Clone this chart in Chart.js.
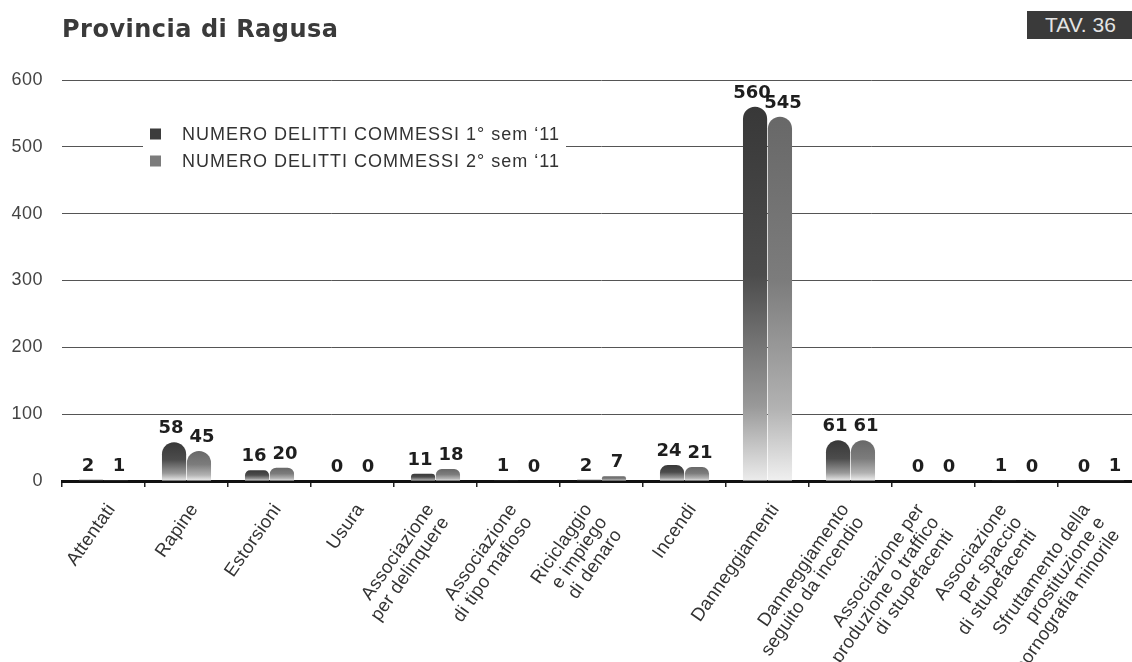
<!DOCTYPE html>
<html><head><meta charset="utf-8">
<script src="https://cdn.jsdelivr.net/npm/chart.js@4.4.1/dist/chart.umd.min.js"></script>
<style>
html,body{margin:0;padding:0;background:#fff;overflow:hidden;width:1132px;height:662px;}
#wrap{position:relative;width:1132px;height:662px;overflow:hidden;background:#fff;}
canvas{position:absolute;left:0;top:0;}
#title{position:absolute;left:62px;top:17px;font:bold 24px 'DejaVu Sans',sans-serif;letter-spacing:0.5px;color:#3a3a3a;line-height:24px;white-space:nowrap;}
#tav{position:absolute;left:1027px;top:11px;width:120px;height:28px;background:#3a3a3a;color:#e4e4e4;font:21px 'Liberation Sans',Arial,sans-serif;line-height:28px;padding-left:18px;box-sizing:border-box;white-space:nowrap;}
</style></head>
<body><div id="wrap"><canvas id="c" width="1141" height="662"></canvas><div id="title">Provincia di Ragusa</div><div id="tav">TAV. 36</div></div>
<script>
const categories = [
  ["Attentati"], ["Rapine"], ["Estorsioni"], ["Usura"],
  ["Associazione","per delinquere"], ["Associazione","di tipo mafioso"],
  ["Riciclaggio","e impiego","di denaro"], ["Incendi"], ["Danneggiamenti"],
  ["Danneggiamento","seguito da incendio"],
  ["Associazione per","produzione o traffico","di stupefacenti"],
  ["Associazione","per spaccio","di stupefacenti"],
  ["Sfruttamento della","prostituzione e","pornografia minorile"]
];
const sem1 = [2, 58, 16, 0, 11, 1, 2, 24, 560, 61, 0, 1, 0];
const sem2 = [1, 45, 20, 0, 18, 0, 7, 21, 545, 61, 0, 0, 1];
const seriesNames = ["NUMERO DELITTI COMMESSI 1° sem \u201811", "NUMERO DELITTI COMMESSI 2° sem \u201811"];
const yTicks = [0, 100, 200, 300, 400, 500, 600];

const stops1 = [[0,'#383838'],[0.45,'#4c4c4c'],[0.8,'#999999'],[1,'#ececec']];
const stops2 = [[0,'#686868'],[0.45,'#7c7c7c'],[0.8,'#b2b2b2'],[1,'#f0f0f0']];
const legendColors = ['#3c3c3c', '#7c7c7c'];
const labelShiftByLines = [8, -5, -13];

function barGradient(stops){
  return function(ctx){
    const chart = ctx.chart;
    if (ctx.type !== 'data' || !chart.chartArea) return stops[0][1];
    const y = chart.scales.y;
    const top = y.getPixelForValue(ctx.raw);
    const bot = y.getPixelForValue(0);
    if (bot - top < 2) return stops[1][1];
    const g = chart.ctx.createLinearGradient(0, top, 0, bot);
    stops.forEach(s => g.addColorStop(s[0], s[1]));
    return g;
  };
}

const spacingPlugin = {
  id: 'spacing',
  beforeLayout(chart){ chart.ctx.letterSpacing = '0.5px'; },
  beforeDraw(chart){ chart.ctx.letterSpacing = '0.5px'; }
};

const valueLabels = {
  id: 'valueLabels',
  afterDatasetsDraw(chart){
    const c = chart.ctx;
    c.save();
    c.letterSpacing = '0px';
    c.font = "bold 18px 'DejaVu Sans', sans-serif";
    c.fillStyle = '#1e1e1e';
    c.textAlign = 'center';
    c.textBaseline = 'alphabetic';
    chart.data.datasets.forEach((ds, i) => {
      const spread = i === 0 ? -3 : 3;
      chart.getDatasetMeta(i).data.forEach((bar, j) => {
        c.fillText(String(ds.data[j]), bar.x + spread, bar.y - 9);
      });
    });
    c.restore();
  }
};

const xLabels = {
  id: 'xLabels',
  afterDraw(chart){
    const c = chart.ctx;
    const xs = chart.scales.x;
    const ang = 55 * Math.PI / 180;
    const lh = 19.5;
    c.save();
    c.font = "18.5px 'Liberation Sans', Arial, sans-serif";
    c.letterSpacing = '0.3px';
    c.fillStyle = '#333';
    c.textAlign = 'right';
    c.textBaseline = 'middle';
    categories.forEach((lines, i) => {
      const cx = xs.getPixelForValue(i) + labelShiftByLines[lines.length - 1];
      const cy = xs.top + 25;
      c.save();
      c.translate(cx, cy);
      c.rotate(-ang);
      lines.forEach((t, k) => c.fillText(t, -2 * k, k * lh));
      c.restore();
    });
    c.restore();
  }
};

const customLegend = {
  id: 'customLegend',
  afterDatasetsDraw(chart){
    const c = chart.ctx;
    c.save();
    c.fillStyle = '#ffffff';
    c.fillRect(143, 118, 423, 56);
    c.font = "18px 'Liberation Sans', Arial, sans-serif";
    c.letterSpacing = '1px';
    c.textAlign = 'left';
    c.textBaseline = 'middle';
    seriesNames.forEach((name, i) => {
      const cy = 134 + i * 27;
      c.fillStyle = legendColors[i];
      c.fillRect(150, cy - 5.5, 11, 11);
      c.fillStyle = '#333';
      c.fillText(name, 182, cy + 1);
    });
    c.restore();
  }
};

new Chart(document.getElementById('c'), {
  type: 'bar',
  data: {
    labels: categories,
    datasets: [
      { label: seriesNames[0], data: sem1, backgroundColor: barGradient(stops1),
        borderRadius: 12, borderSkipped: 'start', categoryPercentage: 0.6, barPercentage: 0.97 },
      { label: seriesNames[1], data: sem2, backgroundColor: barGradient(stops2),
        borderRadius: 12, borderSkipped: 'start', categoryPercentage: 0.6, barPercentage: 0.97 }
    ]
  },
  options: {
    responsive: false,
    animation: false,
    devicePixelRatio: 1,
    layout: { padding: { top: 80, left: 0, right: 0, bottom: 0 } },
    plugins: { legend: { display: false }, tooltip: { enabled: false }, title: { display: false } },
    scales: {
      x: {
        offset: true,
        grid: { display: true, drawOnChartArea: false, drawTicks: true, tickLength: 6, color: '#222', lineWidth: 1.5, offset: true },
        border: { display: true, color: '#111', width: 3 },
        ticks: { display: false, autoSkip: false },
        afterFit(s){ s.height = 181; s.paddingLeft = 0; s.paddingRight = 0; }
      },
      y: {
        min: 0, max: 600,
        afterBuildTicks(s){ s.ticks = yTicks.map(v => ({ value: v })); },
        ticks: { padding: 19, font: { family: "'Liberation Sans', Arial, sans-serif", size: 18 }, color: '#444' },
        grid: { color: '#555', lineWidth: 1, drawTicks: false },
        border: { display: false },
        afterFit(s){ s.width = 62; s.paddingTop = 0; s.paddingBottom = 0; }
      }
    }
  },
  plugins: [spacingPlugin, valueLabels, customLegend, xLabels]
});
</script>
</body></html>
